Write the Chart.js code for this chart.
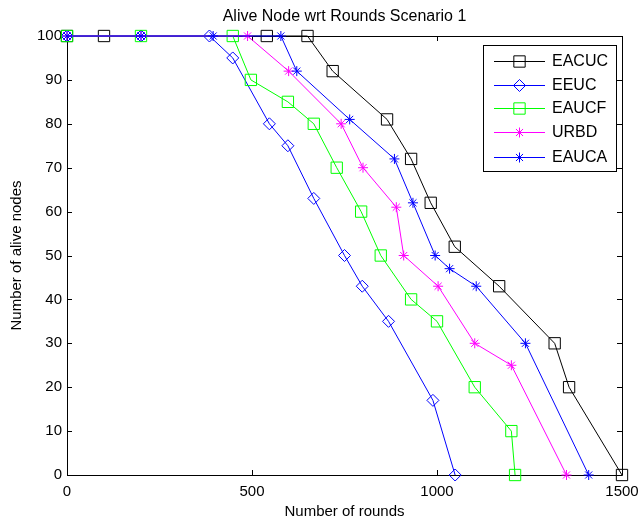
<!DOCTYPE html>
<html>
<head>
<meta charset="utf-8">
<title>Alive Node wrt Rounds Scenario 1</title>
<script src="https://cdn.jsdelivr.net/npm/chart.js@4.4.1/dist/chart.umd.min.js"></script>
<style>
    html, body { margin: 0; padding: 0; background: #fff; }
    .chart-wrap { width: 643px; height: 522px; }
</style>
</head>
<body>
<div class="chart-wrap">
    <canvas id="aliveChart" width="643" height="522"></canvas>
</div>
<script>
// Data
const seriesNames = ['EACUC', 'EEUC', 'EAUCF', 'URBD', 'EAUCA'];

const eacucRounds = [0, 100, 540, 650, 718, 865, 930, 983, 1048, 1168, 1318, 1357, 1500];
const eacucAlive  = [100, 100, 100, 100, 92, 81, 72, 62, 52, 43, 30, 20, 0];

const eeucRounds = [0, 200, 385, 448, 547, 597, 667, 750, 798, 869, 989, 1049];
const eeucAlive  = [100, 100, 100, 95, 80, 75, 63, 50, 43, 35, 17, 0];

const eaucfRounds = [0, 200, 448, 497, 597, 667, 729, 795, 848, 930, 1000, 1102, 1201, 1211];
const eaucfAlive  = [100, 100, 100, 90, 85, 80, 70, 60, 50, 40, 35, 20, 10, 0];

const urbdRounds = [0, 200, 488, 599, 741, 800, 890, 910, 1003, 1102, 1201, 1350];
const urbdAlive  = [100, 100, 100, 92, 80, 70, 61, 50, 43, 30, 25, 0];

const eaucaRounds = [0, 200, 395, 578, 621, 764, 885, 935, 995, 1034, 1106, 1239, 1410];
const eaucaAlive  = [100, 100, 100, 100, 92, 81, 72, 62, 50, 47, 43, 30, 0];

const xTicks = [0, 500, 1000, 1500];
const yTicks = [0, 10, 20, 30, 40, 50, 60, 70, 80, 90, 100];

const FONT = "'Liberation Sans', Arial, Helvetica, sans-serif";

function toPoints(xs, ys) {
    return xs.map((x, i) => ({ x: x, y: ys[i] }));
}

function makeDataset(index, xs, ys, color, style, radius) {
    return {
        label: seriesNames[index],
        data: toPoints(xs, ys),
        borderColor: color,
        backgroundColor: 'rgba(0,0,0,0)',
        borderWidth: 1,
        pointStyle: style,
        pointRadius: radius,
        pointBorderColor: color,
        pointBackgroundColor: 'rgba(0,0,0,0)',
        pointBorderWidth: 1,
        fill: false,
        tension: 0,
        // MATLAB draws later series on top
        order: seriesNames.length - index
    };
}

// Frame around the axes with inward tick marks
const framePlugin = {
    id: 'frame',
    beforeDatasetsDraw(chart) {
        const ctx = chart.ctx;
        const area = chart.chartArea;
        const xs = chart.scales.x;
        const ys = chart.scales.y;
        const len = 5;
        ctx.save();
        ctx.strokeStyle = '#000';
        ctx.lineWidth = 1;
        ctx.beginPath();
        ctx.rect(Math.round(area.left) + 0.5, Math.round(area.top) + 0.5,
                 Math.round(area.right - area.left), Math.round(area.bottom - area.top));
        xTicks.forEach(v => {
            const px = Math.round(xs.getPixelForValue(v)) + 0.5;
            ctx.moveTo(px, area.bottom);
            ctx.lineTo(px, area.bottom - len);
            ctx.moveTo(px, area.top);
            ctx.lineTo(px, area.top + len);
        });
        yTicks.forEach(v => {
            const py = Math.round(ys.getPixelForValue(v)) + 0.5;
            ctx.moveTo(area.left, py);
            ctx.lineTo(area.left + len, py);
            ctx.moveTo(area.right, py);
            ctx.lineTo(area.right - len, py);
        });
        ctx.stroke();
        ctx.restore();
    }
};

// Title, axis labels and the boxed legend
const textPlugin = {
    id: 'texts',
    afterDraw(chart) {
        const ctx = chart.ctx;
        const area = chart.chartArea;
        ctx.save();
        ctx.fillStyle = '#000';
        ctx.textBaseline = 'middle';
        ctx.textAlign = 'center';

        ctx.font = '16px ' + FONT;
        ctx.fillText('Alive Node wrt Rounds Scenario 1', (area.left + area.right) / 2, 17);

        ctx.font = '15px ' + FONT;
        ctx.fillText('Number of rounds', (area.left + area.right) / 2, 512);

        ctx.translate(17, (area.top + area.bottom) / 2);
        ctx.rotate(-Math.PI / 2);
        ctx.fillText('Number of alive nodes', 0, 0);
        ctx.restore();

        drawLegend(chart);
    }
};

function drawLegend(chart) {
    const ctx = chart.ctx;
    const box = { left: 483, top: 45, right: 616, bottom: 171 };
    const rowY = [61, 85, 108, 132, 157];
    ctx.save();
    ctx.fillStyle = '#fff';
    ctx.fillRect(box.left, box.top, box.right - box.left, box.bottom - box.top);
    ctx.strokeStyle = '#000';
    ctx.lineWidth = 1;
    ctx.strokeRect(box.left + 0.5, box.top + 0.5, box.right - box.left, box.bottom - box.top);

    chart.data.datasets.forEach((ds, i) => {
        const y = rowY[i];
        ctx.strokeStyle = ds.borderColor;
        ctx.lineWidth = 1;
        ctx.beginPath();
        ctx.moveTo(494, y + 0.5);
        ctx.lineTo(545, y + 0.5);
        ctx.stroke();

        ctx.strokeStyle = ds.pointBorderColor;
        ctx.fillStyle = 'rgba(0,0,0,0)';
        Chart.helpers.drawPoint(ctx, {
            pointStyle: ds.pointStyle,
            radius: ds.pointRadius,
            rotation: 0,
            borderWidth: 1
        }, 519.5, y + 0.5);

        ctx.fillStyle = '#000';
        ctx.font = '16px ' + FONT;
        ctx.textAlign = 'left';
        ctx.textBaseline = 'middle';
        ctx.fillText(ds.label, 552, y + 1);
    });
    ctx.restore();
}

document.addEventListener('DOMContentLoaded', () => {
    Chart.defaults.font.family = FONT;
    Chart.defaults.color = '#000';

    const ctx = document.getElementById('aliveChart').getContext('2d');

    new Chart(ctx, {
        type: 'line',
        data: {
            datasets: [
                makeDataset(0, eacucRounds, eacucAlive, '#000000', 'rect', 8),
                makeDataset(1, eeucRounds, eeucAlive, '#0000ff', 'rectRot', 6),
                makeDataset(2, eaucfRounds, eaucfAlive, '#00ff00', 'rect', 8),
                makeDataset(3, urbdRounds, urbdAlive, '#ff00ff', 'star', 5),
                makeDataset(4, eaucaRounds, eaucaAlive, '#0000ff', 'star', 5)
            ]
        },
        options: {
            responsive: false,
            animation: false,
            clip: false,
            layout: {
                padding: { left: 0, right: 21, top: 36, bottom: 0 }
            },
            plugins: {
                legend: { display: false },
                title: { display: false },
                tooltip: { enabled: false }
            },
            scales: {
                x: {
                    type: 'linear',
                    min: 0,
                    max: 1500,
                    afterBuildTicks: axis => { axis.ticks = xTicks.map(v => ({ value: v })); },
                    afterFit: axis => {
                        axis.height = 47;
                        axis.paddingLeft = 0;
                        axis.paddingRight = 0;
                    },
                    grid: { display: false, drawTicks: false },
                    border: { display: false },
                    ticks: {
                        padding: 8,
                        font: { size: 15 },
                        maxRotation: 0,
                        callback: value => String(value)
                    }
                },
                y: {
                    type: 'linear',
                    min: 0,
                    max: 100,
                    afterBuildTicks: axis => { axis.ticks = yTicks.map(v => ({ value: v })); },
                    afterFit: axis => {
                        axis.width = 67;
                        axis.paddingTop = 0;
                        axis.paddingBottom = 0;
                    },
                    grid: { display: false, drawTicks: false },
                    border: { display: false },
                    ticks: { padding: 5, font: { size: 15 } }
                }
            }
        },
        plugins: [framePlugin, textPlugin]
    });
});
</script>
</body>
</html>
